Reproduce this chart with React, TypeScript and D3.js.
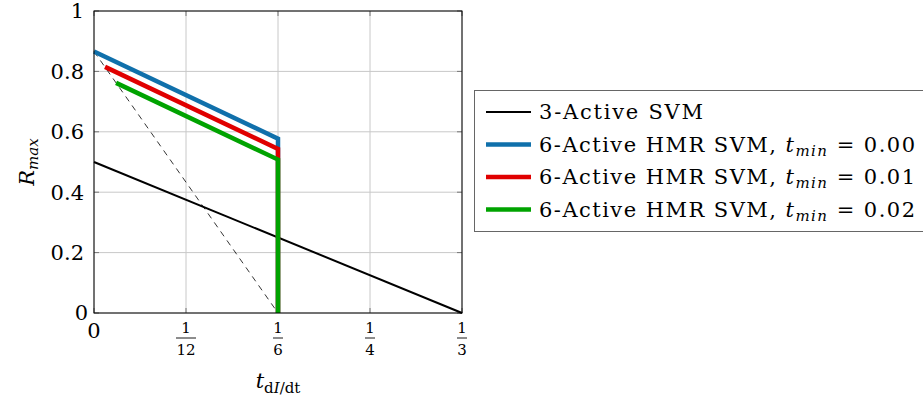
import React from 'react';
import * as d3 from 'd3';

// tick values and their labels
const xTicks = [0, 1 / 12, 1 / 6, 1 / 4, 1 / 3];
const xTickNum = ['0', '1', '1', '1', '1'];
const xTickDen = ['', '12', '6', '4', '3'];
const yTicks = [0, 0.2, 0.4, 0.6, 0.8, 1];
const yTickLabels = ['0', '0.2', '0.4', '0.6', '0.8', '1'];

// series
const svm3 = [
  { x: 0, y: 0.5 },
  { x: 1 / 3, y: 0 },
];
const hmr000 = [
  { x: 0, y: 0.866 },
  { x: 1 / 6, y: 0.577 },
  { x: 1 / 6, y: 0 },
];
const hmr001 = [
  { x: 0.01, y: 0.815 },
  { x: 1 / 6, y: 0.543 },
  { x: 1 / 6, y: 0 },
];
const hmr002 = [
  { x: 0.02, y: 0.762 },
  { x: 1 / 6, y: 0.508 },
  { x: 1 / 6, y: 0 },
];
const startLocus = [
  { x: 0, y: 0.866 },
  { x: 1 / 6, y: 0 },
];

const legendItems = [
  { label: '3-Active SVM', tmin: '', color: '#000', width: 2 },
  { label: '6-Active HMR SVM, ', tmin: '0.00', color: '#1070ab', width: 4.5 },
  { label: '6-Active HMR SVM, ', tmin: '0.01', color: '#e00000', width: 4.5 },
  { label: '6-Active HMR SVM, ', tmin: '0.02', color: '#00a300', width: 4.5 },
];

const font = "'DejaVu Serif', 'Liberation Serif', serif";

type P = { x: number; y: number };

export default function App() {
  const width = 923;
  const height = 406;
  const left = 94;
  const right = 462;
  const top = 11;
  const bottom = 313;

  const x = d3.scaleLinear().domain([0, 1 / 3]).range([left, right]);
  const y = d3.scaleLinear().domain([0, 1]).range([bottom, top]);
  const line = d3
    .line<P>()
    .x((d) => x(d.x))
    .y((d) => y(d.y));

  const colored = [hmr000, hmr001, hmr002];

  return (
    <div style={{ position: 'fixed', left: 0, top: 0 }}>
      <svg width={width} height={height} style={{ display: 'block', background: '#fff', fontFamily: font }}>
        {/* grid */}
        {xTicks.map((t, i) => (
          <line key={'gx' + i} x1={x(t)} x2={x(t)} y1={top} y2={bottom} stroke="#c8c8c8" strokeWidth={1} />
        ))}
        {yTicks.map((t, i) => (
          <line key={'gy' + i} x1={left} x2={right} y1={y(t)} y2={y(t)} stroke="#c8c8c8" strokeWidth={1} />
        ))}
        {/* inner ticks */}
        {xTicks.map((t, i) => (
          <g key={'tx' + i}>
            <line x1={x(t)} x2={x(t)} y1={bottom} y2={bottom - 5} stroke="#777" />
            <line x1={x(t)} x2={x(t)} y1={top} y2={top + 5} stroke="#777" />
          </g>
        ))}
        {yTicks.map((t, i) => (
          <g key={'ty' + i}>
            <line x1={left} x2={left + 5} y1={y(t)} y2={y(t)} stroke="#777" />
            <line x1={right} x2={right - 5} y1={y(t)} y2={y(t)} stroke="#777" />
          </g>
        ))}

        {/* dashed locus */}
        <path d={line(startLocus) || ''} fill="none" stroke="#000" strokeWidth={0.8} strokeDasharray="6 5" />
        {/* 3-Active */}
        <path d={line(svm3) || ''} fill="none" stroke="#000" strokeWidth={2} />
        {colored.map((s, i) => (
          <path
            key={'s' + i}
            d={line(s) || ''}
            fill="none"
            stroke={legendItems[i + 1].color}
            strokeWidth={4.5}
            strokeLinejoin="miter"
          />
        ))}

        {/* frame */}
        <rect x={left} y={top} width={right - left} height={bottom - top} fill="none" stroke="#000" strokeWidth={1} />

        {/* y tick labels */}
        {yTicks.map((t, i) => (
          <text
            key={'yl' + i}
            x={t === 0 ? left - 6 : left - 10}
            y={y(t)}
            dy="0.35em"
            textAnchor="end"
            fontSize={21}
          >
            {yTickLabels[i]}
          </text>
        ))}

        {/* x tick labels */}
        {xTicks.map((t, i) =>
          xTickDen[i] === '' ? (
            <text key={'xl' + i} x={x(t)} y={338} textAnchor="middle" fontSize={21}>
              {xTickNum[i]}
            </text>
          ) : (
            <g key={'xl' + i} fontSize={15} textAnchor="middle">
              <text x={x(t)} y={333}>{xTickNum[i]}</text>
              <line
                x1={x(t) - (xTickDen[i].length > 1 ? 10 : 5)}
                x2={x(t) + (xTickDen[i].length > 1 ? 10 : 5)}
                y1={338}
                y2={338}
                stroke="#000"
                strokeWidth={0.9}
              />
              <text x={x(t)} y={355}>{xTickDen[i]}</text>
            </g>
          )
        )}

        {/* axis labels */}
        <text x={278} y={388} textAnchor="middle" fontSize={21}>
          <tspan fontStyle="italic">t</tspan>
          <tspan fontSize={15} dy={5}>d</tspan>
          <tspan fontSize={15} fontStyle="italic">I</tspan>
          <tspan fontSize={15}>/dt</tspan>
        </text>
        <text transform={`translate(34,${(top + bottom) / 2}) rotate(-90)`} textAnchor="middle" fontSize={21}>
          <tspan fontStyle="italic">R</tspan>
          <tspan fontStyle="italic" fontSize={15} dy={4}>max</tspan>
        </text>

        {/* legend */}
        <rect x={474.5} y={90.5} width={460} height={141} fill="#fff" stroke="#666" strokeWidth={1} />
        {legendItems.map((it, i) => {
          const ly = 112 + i * 32.5;
          return (
            <g key={'lg' + i}>
              <line x1={486} x2={531} y1={ly} y2={ly} stroke={it.color} strokeWidth={it.width} />
              <text
                x={539}
                y={ly}
                dy="0.35em"
                fontSize={21}
                textLength={it.tmin === '' ? 164 : 376}
                lengthAdjust="spacing"
              >
                {it.label}
                {it.tmin !== '' && (
                  <>
                    <tspan fontStyle="italic">t</tspan>
                    <tspan fontStyle="italic" fontSize={15} dy={4}>min</tspan>
                    <tspan dy={-4}>{' = ' + it.tmin}</tspan>
                  </>
                )}
              </text>
            </g>
          );
        })}
      </svg>
    </div>
  );
}
